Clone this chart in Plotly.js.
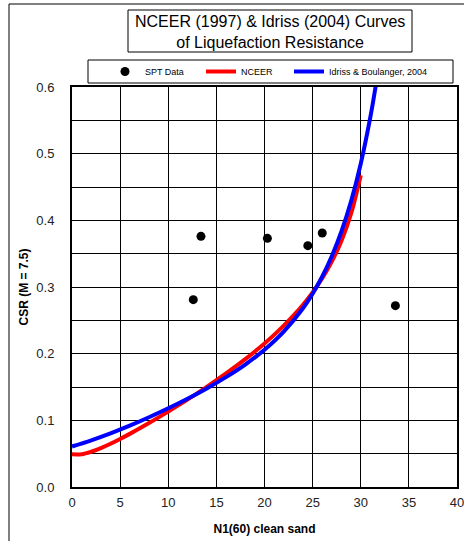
<!DOCTYPE html>
<html>
<head>
<meta charset="utf-8">
<script src="https://cdn.plot.ly/plotly-3.0.1.min.js"></script>
<style>html,body{margin:0;padding:0;background:#fff;}#chart{width:464px;height:541px;}</style>
</head>
<body>
<div id="chart"></div>
<script>
// SPT data points
const sptN = [13.4, 20.3, 24.5, 26.0, 12.6, 33.6];
const sptCSR = [0.376, 0.373, 0.362, 0.381, 0.281, 0.272];

// NCEER (1997) curve
const nceerN = [0,1,2,3,4,5,6,7,8,9,10,11,12,13,14,15,16,17,18,19,20,21,22,23,24,25,26,27,28,29,30];
const nceerCSR = [0.0491,0.0492,0.0529,0.0584,0.0649,0.0721,0.0797,0.0877,0.0959,0.1044,0.1131,0.1220,0.1312,0.1405,0.1502,0.1601,0.1703,0.1808,0.1918,0.2033,0.2154,0.2282,0.2420,0.2569,0.2734,0.2919,0.3131,0.3384,0.3695,0.4103,0.4676];

// Idriss & Boulanger (2004) curve
const ibN = [0,2,4,6,8,10,12,14,16,18,20,22,24,25,26,27,28,29,30,31,31.5,32];
const ibCSR = [0.0608,0.0701,0.0805,0.0920,0.1046,0.1181,0.1325,0.1479,0.1648,0.1837,0.2059,0.2331,0.2682,0.2900,0.3158,0.3465,0.3836,0.4289,0.4849,0.5551,0.5969,0.6442];

const FONT = "Arial, 'Liberation Sans', sans-serif";
// plot area in pixels: x 72..457, y 87..487
const L = 72, R = 457, T = 87, B = 487;
const px = v => (v - L) / (R - L);
const py = v => (B - v) / (B - T);

const traces = [
  {x: sptN, y: sptCSR, type: 'scatter', mode: 'markers', name: 'SPT Data', legend: 'legend',
   marker: {color: 'black', size: 9}},
  {x: nceerN, y: nceerCSR, type: 'scatter', mode: 'lines', name: 'NCEER', legend: 'legend2',
   line: {color: '#ff0000', width: 4, shape: 'spline'}},
  {x: ibN, y: ibCSR, type: 'scatter', mode: 'lines', name: 'Idriss & Boulanger, 2004', legend: 'legend3',
   line: {color: '#0000ff', width: 4, shape: 'spline'}}
];

function legendAt(xpx) {
  return {orientation: 'h', x: px(xpx), xanchor: 'left', y: py(71.5), yanchor: 'middle',
          font: {size: 9, family: FONT}, bgcolor: 'rgba(0,0,0,0)', borderwidth: 0, itemwidth: 30};
}

const layout = {
  width: 464, height: 541,
  margin: {l: L, r: 464 - R, t: T, b: 541 - B, pad: 0},
  paper_bgcolor: 'white', plot_bgcolor: 'white',
  font: {family: FONT, color: 'black'},
  showlegend: true,
  legend: legendAt(105),
  legend2: legendAt(201),
  legend3: legendAt(289),
  xaxis: {range: [0, 40], dtick: 5, tick0: 0, showgrid: true, gridcolor: 'black', gridwidth: 1,
          showline: true, linecolor: 'black', linewidth: 2, mirror: true, zeroline: false,
          ticks: 'outside', ticklen: 2, tickcolor: 'rgba(0,0,0,0)', ticklabeloverflow: 'allow',
          tickfont: {size: 13, family: FONT, color: '#222'},
          title: {text: 'N1(60) clean sand', font: {size: 12, family: FONT, weight: 'bold'}, standoff: 16}},
  yaxis: {range: [0, 0.6], dtick: 0.1, tick0: 0, tickformat: '.1f', showgrid: true, gridcolor: 'black', gridwidth: 1,
          minor: {dtick: 0.05, showgrid: true, gridcolor: 'black', gridwidth: 1},
          showline: true, linecolor: 'black', linewidth: 2, mirror: true, zeroline: false,
          ticks: 'outside', ticklen: 13, tickcolor: 'rgba(0,0,0,0)',
          tickfont: {size: 13, family: FONT, color: '#222'},
          title: {text: 'CSR (M = 7.5)', font: {size: 12, family: FONT, weight: 'bold'}, standoff: 5}},
  shapes: [
    {type: 'rect', xref: 'paper', yref: 'paper', x0: px(9), x1: px(480), y0: py(560), y1: py(4),
     line: {color: 'black', width: 1}, fillcolor: 'rgba(0,0,0,0)'},
    {type: 'rect', xref: 'paper', yref: 'paper', x0: px(128), x1: px(412), y0: py(52), y1: py(10),
     line: {color: 'black', width: 1}, fillcolor: 'rgba(0,0,0,0)'},
    {type: 'rect', xref: 'paper', yref: 'paper', x0: px(88), x1: px(453), y0: py(83), y1: py(60),
     line: {color: 'black', width: 1}, fillcolor: 'rgba(0,0,0,0)'}
  ],
  annotations: [
    {xref: 'paper', yref: 'paper', x: px(270), y: py(32), xanchor: 'center', yanchor: 'middle',
     showarrow: false, align: 'center',
     text: 'NCEER (1997) & Idriss (2004) Curves<br>of Liquefaction Resistance',
     font: {size: 16, family: FONT, color: 'black'}}
  ]
};

Plotly.newPlot('chart', traces, layout, {displayModeBar: false, staticPlot: true});
</script>
</body>
</html>
